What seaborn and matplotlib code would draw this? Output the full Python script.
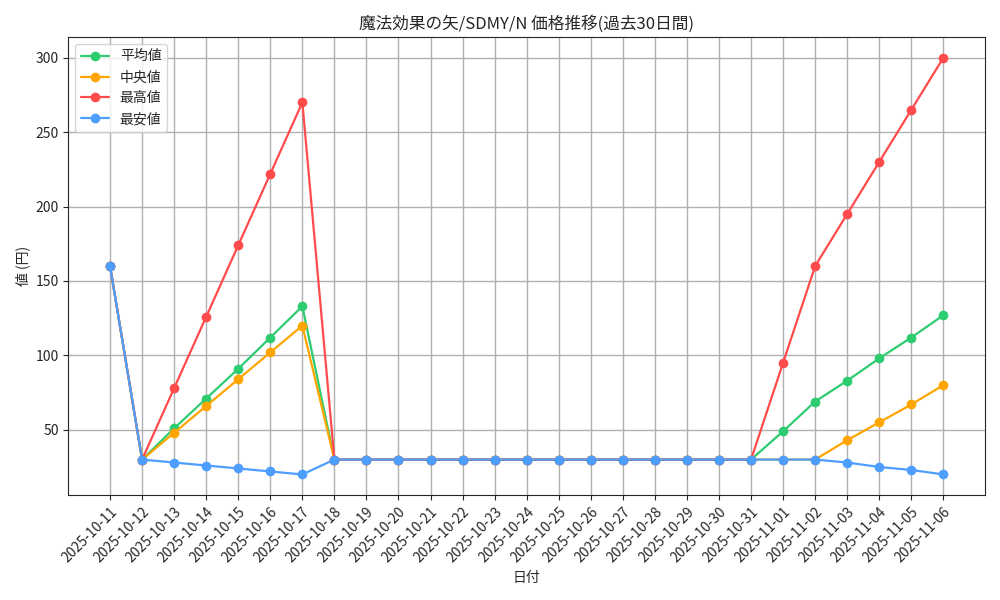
import pandas as pd
import matplotlib
matplotlib.use("Agg")
import matplotlib.pyplot as plt
import seaborn as sns

dates = pd.date_range("2025-10-11", "2025-11-06").strftime("%Y-%m-%d").tolist()

avg_price = [160, 30, 51, 71, 91, 112, 133, 30, 30, 30, 30, 30, 30, 30, 30, 30,
             30, 30, 30, 30, 30, 49, 69, 83, 98, 112, 127]
median_price = [160, 30, 48, 66, 84, 102, 120, 30, 30, 30, 30, 30, 30, 30, 30, 30,
                30, 30, 30, 30, 30, 30, 30, 43, 55, 67, 80]
max_price = [160, 30, 78, 126, 174, 222, 270, 30, 30, 30, 30, 30, 30, 30, 30, 30,
             30, 30, 30, 30, 30, 95, 160, 195, 230, 265, 300]
min_price = [160, 30, 28, 26, 24, 22, 20, 30, 30, 30, 30, 30, 30, 30, 30, 30,
             30, 30, 30, 30, 30, 30, 30, 28, 25, 23, 20]

series = [("平均値", avg_price, "#2ecc71"),
          ("中央値", median_price, "#ffa500"),
          ("最高値", max_price, "#ff4b4b"),
          ("最安値", min_price, "#4d9eff")]

sns.set_style("ticks")
plt.rcParams['font.family'] = ['Noto Sans CJK JP', 'DejaVu Sans']

fig, ax = plt.subplots(figsize=(10, 6), dpi=100)
for name, vals, col in series:
    df = pd.DataFrame({"date": dates, "price": vals})
    sns.lineplot(data=df, x="date", y="price", ax=ax, color=col, marker="o",
                 markersize=7, markeredgewidth=0, linewidth=1.6, label=name, sort=False)

ax.set_title("魔法効果の矢/SDMY/N 価格推移(過去30日間)")
ax.set_xlabel("日付")
ax.set_ylabel("値 (円)")
ax.grid(True, color="#b0b0b0", linewidth=1)
ax.tick_params(axis="x", rotation=45)
for lbl in ax.get_xticklabels():
    lbl.set_ha("right")
    lbl.set_rotation_mode("anchor")
ax.legend(loc="upper left")
plt.tight_layout()
plt.savefig("out.png")
